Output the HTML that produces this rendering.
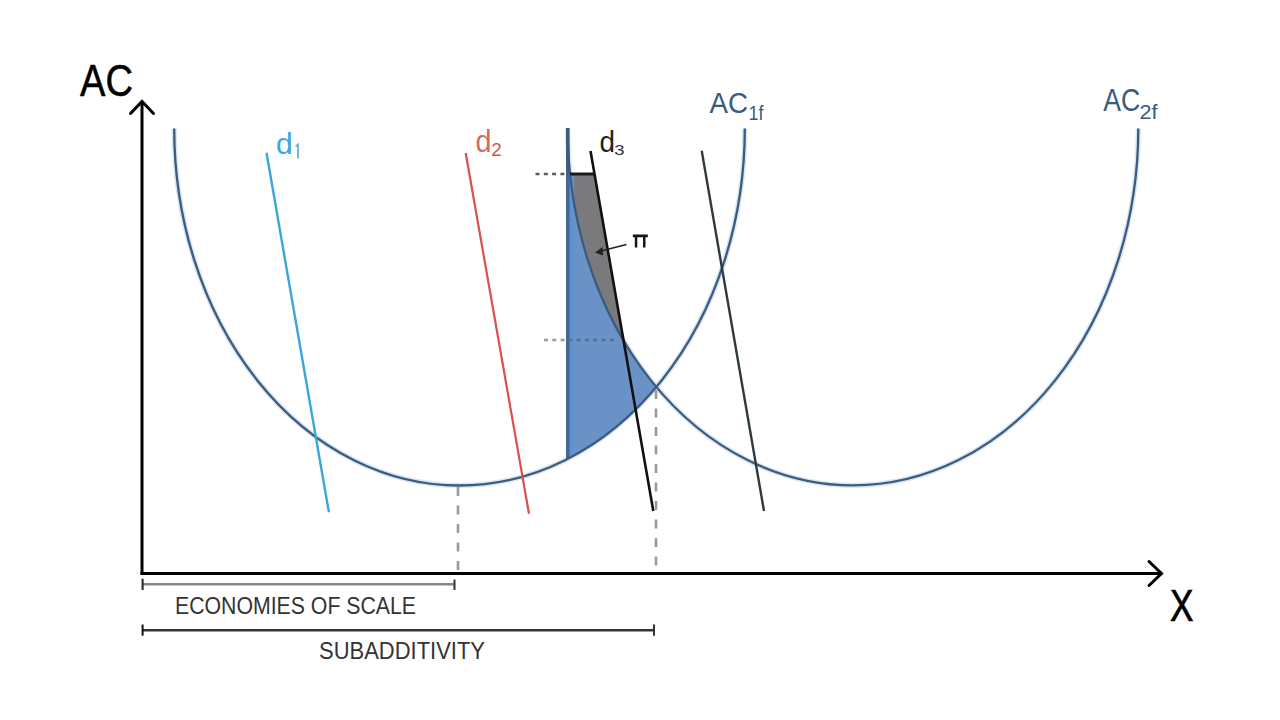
<!DOCTYPE html>
<html><head><meta charset="utf-8"><style>html,body{margin:0;padding:0;background:#fff;width:1280px;height:720px;overflow:hidden}svg{display:block}</style></head>
<body><svg width="1280" height="720" viewBox="0 0 1280 720">
<rect width="1280" height="720" fill="#fff"/>
<g fill="none" stroke="#d9e6f1" stroke-width="5.2">
<path d="M174.2,128.5 A285.3,357 0 0 0 744.8,128.5"/>
<path d="M567.7,128.5 A285.3,357 0 0 0 1138.3,128.5"/>
</g>
<polygon points="568.00,174.00 568.00,458.68 568.00,458.68 569.50,457.90 570.99,457.11 572.49,456.31 573.98,455.50 575.48,454.67 576.97,453.83 578.47,452.98 579.97,452.11 581.46,451.24 582.96,450.34 584.45,449.44 585.95,448.52 587.44,447.59 588.94,446.64 590.44,445.68 591.93,444.71 593.43,443.72 594.92,442.72 596.42,441.70 597.92,440.67 599.41,439.62 600.91,438.56 602.40,437.49 603.90,436.40 605.39,435.29 606.89,434.17 608.39,433.03 609.88,431.88 611.38,430.71 612.87,429.53 614.37,428.32 615.86,427.11 617.36,425.87 618.86,424.62 620.35,423.35 621.85,422.06 623.34,420.76 624.84,419.44 626.33,418.10 627.83,416.74 629.33,415.36 630.82,413.97 632.32,412.55 633.81,411.12 635.31,409.66 636.81,408.19 638.30,406.69 639.80,405.18 641.29,403.64 642.79,402.08 644.28,400.50 645.78,398.90 647.28,397.27 648.77,395.63 650.27,393.96 651.76,392.26 653.26,390.54 654.75,388.80 656.25,387.03 656.25,387.03 654.01,384.33 651.82,381.63 649.68,378.94 647.58,376.24 645.52,373.54 643.51,370.85 641.54,368.15 639.61,365.46 637.71,362.76 635.86,360.06 634.04,357.37 632.26,354.67 630.51,351.97 628.80,349.28 627.12,346.58 625.47,343.88 623.86,341.19 622.27,338.49 620.72,335.79 619.20,333.10 617.71,330.40 616.24,327.70 614.81,325.01 613.40,322.31 612.02,319.61 610.67,316.92 609.35,314.22 608.05,311.52 606.77,308.83 605.52,306.13 604.30,303.43 603.10,300.74 601.93,298.04 600.77,295.34 599.65,292.65 598.54,289.95 597.46,287.26 596.40,284.56 595.37,281.86 594.35,279.17 593.36,276.47 592.39,273.77 591.44,271.08 590.51,268.38 589.60,265.68 588.72,262.99 587.85,260.29 587.01,257.59 586.18,254.90 585.37,252.20 584.59,249.50 583.82,246.81 583.07,244.11 582.35,241.41 581.64,238.72 580.95,236.02 580.28,233.32 579.62,230.63 578.99,227.93 578.37,225.23 577.78,222.54 577.20,219.84 576.64,217.14 576.09,214.45 575.57,211.75 575.06,209.06 574.57,206.36 574.09,203.66 573.64,200.97 573.20,198.27 572.78,195.57 572.38,192.88 571.99,190.18 571.62,187.48 571.27,184.79 570.93,182.09 570.61,179.39 570.31,176.70 570.03,174.00" fill="#6a92c6"/>
<polygon points="570.03,174.00 594.51,174.00 623.60,340.75 623.60,340.75 622.36,338.64 621.14,336.53 619.94,334.42 618.76,332.31 617.60,330.20 616.45,328.09 615.32,325.98 614.21,323.87 613.12,321.76 612.04,319.65 610.98,317.53 609.93,315.42 608.91,313.31 607.89,311.20 606.90,309.09 605.91,306.98 604.95,304.87 604.00,302.76 603.06,300.65 602.14,298.54 601.23,296.43 600.34,294.32 599.46,292.20 598.60,290.09 597.75,287.98 596.92,285.87 596.09,283.76 595.29,281.65 594.49,279.54 593.71,277.43 592.94,275.32 592.19,273.21 591.45,271.10 590.72,268.99 590.00,266.88 589.30,264.76 588.61,262.65 587.93,260.54 587.27,258.43 586.61,256.32 585.97,254.21 585.34,252.10 584.73,249.99 584.12,247.88 583.53,245.77 582.95,243.66 582.38,241.55 581.82,239.43 581.28,237.32 580.74,235.21 580.22,233.10 579.71,230.99 579.21,228.88 578.72,226.77 578.24,224.66 577.78,222.55 577.32,220.44 576.88,218.33 576.45,216.22 576.02,214.11 575.61,211.99 575.21,209.88 574.82,207.77 574.44,205.66 574.08,203.55 573.72,201.44 573.37,199.33 573.04,197.22 572.71,195.11 572.39,193.00 572.09,190.89 571.80,188.78 571.51,186.66 571.24,184.55 570.98,182.44 570.72,180.33 570.48,178.22 570.25,176.11 570.03,174.00" fill="#7a7a7c"/>
<line x1="567.8" y1="128" x2="567.8" y2="174" stroke="#3f5f86" stroke-width="3.6"/>
<line x1="567.85" y1="174" x2="567.85" y2="458.68" stroke="#3f6893" stroke-width="3.7"/>
<line x1="572" y1="176" x2="572" y2="455.68" stroke="#5f92cf" stroke-width="4.4"/>
<!-- dotted guides -->
<line x1="535.5" y1="174" x2="567" y2="174" stroke="#5c5c5c" stroke-width="2.5" stroke-dasharray="4 4.3"/>
<line x1="544" y1="339.9" x2="566" y2="339.9" stroke="#9c9c9c" stroke-width="2.5" stroke-dasharray="4 4.3"/>
<line x1="566.6" y1="339.9" x2="618" y2="339.9" stroke="#4f6f9c" stroke-width="2.5" stroke-dasharray="4 4.3" stroke-dashoffset="-1.7"/>
<line x1="458" y1="487" x2="458" y2="573" stroke="#9a9a9a" stroke-width="2.6" stroke-dasharray="9 9.5"/>
<line x1="656" y1="390" x2="656" y2="573" stroke="#9a9a9a" stroke-width="2.6" stroke-dasharray="9 9.5"/>
<!-- AC curves -->
<path d="M174.2,128.5 A285.3,357 0 0 0 744.8,128.5" fill="none" stroke="#3b5b80" stroke-width="2.3"/>
<path d="M567.7,128.5 A285.3,357 0 0 0 1138.3,128.5" fill="none" stroke="#3b5b80" stroke-width="2.3"/>
<!-- top black line of gray -->
<line x1="570.03" y1="174" x2="594.51" y2="174" stroke="#1a1a1a" stroke-width="3"/>
<!-- demand lines -->
<line x1="266.5" y1="152.8" x2="328.9" y2="512.2" stroke="#3aa6dc" stroke-width="2.4"/>
<line x1="465.7" y1="153.0" x2="529.0" y2="513.75" stroke="#d9504e" stroke-width="2.2"/>
<line x1="590.5" y1="151.0" x2="653.3" y2="511.0" stroke="#111" stroke-width="2.6"/>
<line x1="701.7" y1="150.8" x2="764.0" y2="511.0" stroke="#2f3a3f" stroke-width="2.4"/>
<!-- pi arrow -->
<line x1="626.5" y1="244.5" x2="597" y2="252" stroke="#222" stroke-width="1.8"/>
<path d="M595,252.5 L602.5,247 L603,255.5 Z" fill="#222"/>
<!-- axes -->
<line x1="142" y1="101" x2="142" y2="573.5" stroke="#000" stroke-width="3"/>
<line x1="140.4" y1="573.5" x2="1162" y2="573.5" stroke="#000" stroke-width="3"/>
<path d="M130.5,113.5 L142,101.5 L153.5,113.5" fill="none" stroke="#000" stroke-width="3" stroke-linecap="round" stroke-linejoin="miter"/>
<path d="M1149,561.5 L1161.5,573.5 L1149,585.5" fill="none" stroke="#000" stroke-width="3" stroke-linecap="round" stroke-linejoin="miter"/>
<!-- brackets -->
<line x1="142.6" y1="584.2" x2="454.5" y2="584.2" stroke="#858585" stroke-width="2.4"/>
<line x1="142.6" y1="578.8" x2="142.6" y2="590" stroke="#222" stroke-width="2"/>
<line x1="454.5" y1="579.5" x2="454.5" y2="590" stroke="#333" stroke-width="2"/>
<line x1="142.6" y1="630.3" x2="654" y2="630.3" stroke="#333" stroke-width="2.6"/>
<line x1="142.6" y1="624.5" x2="142.6" y2="635.7" stroke="#111" stroke-width="2"/>
<line x1="654" y1="624.5" x2="654" y2="635.7" stroke="#333" stroke-width="2"/>
<!-- texts -->
<g font-family="Liberation Sans, sans-serif">
<text x="80" y="96" font-size="45" fill="#000" stroke="#000" stroke-width="0.5" textLength="53" lengthAdjust="spacingAndGlyphs">AC</text>
<text x="1170" y="621" font-size="43.5" fill="#000" stroke="#000" stroke-width="0.7" textLength="23.4" lengthAdjust="spacingAndGlyphs">X</text>
<text x="709.5" y="112.8" font-size="30.2" fill="#3b5b80" textLength="38.5" lengthAdjust="spacingAndGlyphs">AC</text>
<text x="748.5" y="120" font-size="20" fill="#3b5b80" textLength="15" lengthAdjust="spacingAndGlyphs">1f</text>
<text x="1103.2" y="111.3" font-size="30.5" fill="#3b5b80" textLength="37" lengthAdjust="spacingAndGlyphs">AC</text>
<text x="1139.5" y="119.4" font-size="20" fill="#3b5b80" textLength="18" lengthAdjust="spacingAndGlyphs">2f</text>
<text x="276" y="153.7" font-size="30" fill="#3aa6dc">d</text>
<path d="M295.6,146.6 L298,144.6 L298,158.6" fill="none" stroke="#7ab4d6" stroke-width="2"/>
<text x="475.5" y="152" font-size="31" fill="#d46a66" textLength="16" lengthAdjust="spacingAndGlyphs">d</text>
<text x="491.3" y="155.5" font-size="17.5" fill="#d9504e" textLength="10.5" lengthAdjust="spacingAndGlyphs">2</text>
<text x="599.5" y="152" font-size="29.5" fill="#222" textLength="15.5" lengthAdjust="spacingAndGlyphs">d</text>
<text x="614.3" y="154.8" font-size="15.5" fill="#333" textLength="10.3" lengthAdjust="spacingAndGlyphs">3</text>
<path d="M632.8,234.4 H647.8 V237.3 H632.8 Z M634.8,237 H637.3 V247.6 H634.8 Z M643,237 H645.5 V247.6 H643 Z" fill="#151515"/>
<text x="175" y="614" font-size="23" fill="#333" textLength="241" lengthAdjust="spacingAndGlyphs">ECONOMIES OF SCALE</text>
<text x="319" y="658.5" font-size="23" fill="#333" textLength="166" lengthAdjust="spacingAndGlyphs">SUBADDITIVITY</text>
</g>
</svg></body></html>
